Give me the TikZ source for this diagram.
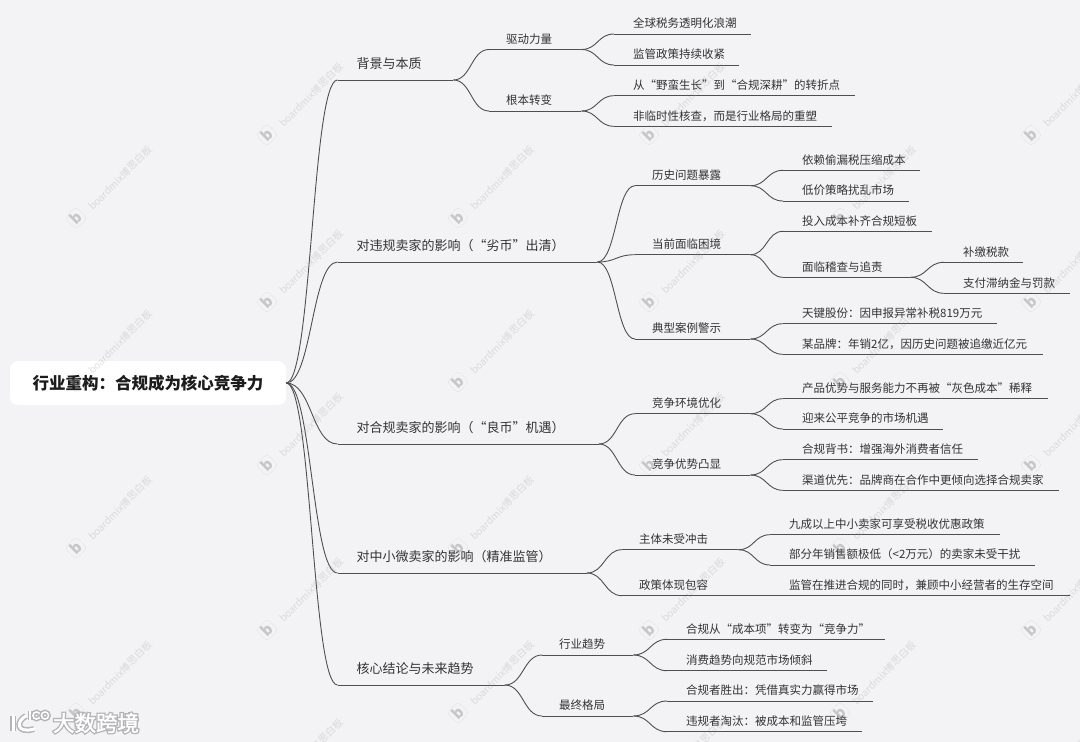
\documentclass[tikz,border=0pt]{standalone}
\usepackage{fontspec}
\setmainfont{Noto Sans CJK SC}
\newfontfamily\logofont[FakeBold=1.6]{Noto Sans CJK SC}
\newfontfamily\haloshade[FakeBold=14]{Noto Sans CJK SC}
\usetikzlibrary{calc}
\definecolor{canvasGray}{HTML}{F3F3F5}
\definecolor{lineGray}{HTML}{4F4F4F}
\definecolor{textGray}{HTML}{333333}
\definecolor{rootInk}{HTML}{1C1C1C}
\definecolor{markGray}{HTML}{8A8A8E}
\definecolor{logoHalo}{HTML}{B4B4B7}

\begin{document}
\begin{tikzpicture}[
    x=1pt, y=-1pt,
    % ── shared styles ───────────────────────────────────────────────
    root node/.style={
        rectangle, rounded corners=8pt, fill=white,
        font=\bfseries\fontsize{16.5}{19}\selectfont, text=rootInk,
        minimum width=276pt, minimum height=44pt,
        inner sep=0pt,
    },
    topic line/.style={
        append after command={
            (\tikzlastnode.south west) edge[draw=lineGray, line width=0.9pt]
            (\tikzlastnode.south east)
        },
    },
    limb/.style={
        anchor=south west, topic line, text=textGray,
        font=\fontsize{13}{15}\selectfont,
        text width=#1, align=left, text height=11pt, text depth=0pt,
        inner xsep=0pt, inner ysep=11pt,
        execute at begin node=\hspace*{19pt},
    },
    bough/.style={
        anchor=south west, topic line, text=textGray,
        font=\fontsize{11.5}{14}\selectfont,
        text width=#1, align=left, text height=10pt, text depth=0pt,
        inner xsep=0pt, inner ysep=6pt,
        execute at begin node=\hspace*{17pt},
    },
    twig/.style={
        anchor=south west, topic line, text=textGray,
        font=\fontsize{11.5}{14}\selectfont,
        text width=#1, align=left, text height=10pt, text depth=0pt,
        inner xsep=0pt, inner ysep=6pt,
        execute at begin node=\hspace*{19pt},
    },
    branch/.style={
        draw=lineGray, line width=0.9pt,
        to path={
            let \p1=(\tikztostart), \p2=(\tikztotarget) in
            .. controls ({0.5*\x1+0.5*\x2},\y1) and ({0.5*\x1+0.5*\x2},\y2)
            .. (\tikztotarget)
        },
    },
    mark text/.style={
        rotate=45, text=markGray, opacity=0.24,
        font=\fontsize{10}{12}\selectfont, inner sep=0pt,
    },
    mark icon/.style={
        rotate=45, rectangle, rounded corners=4pt,
        draw=markGray, line width=0.4pt, draw opacity=0.16,
        text=markGray, text opacity=0.42,
        font=\bfseries\fontsize{15}{15}\selectfont,
        minimum size=16pt, inner sep=0pt,
    },
    logo line/.style={
        draw=white, line cap=round, line width=#1,
        preaction={draw=logoHalo, line width=#1+3pt},
    },
]

\useasboundingbox (0,0) rectangle (1080,742);
\fill[canvasGray] (0,0) rectangle (1080,742);

% =============================================================
%  ROOT NODE
% =============================================================
\node[root node] (root) at (148,383) {行业重构：合规成为核心竞争力};

% =============================================================
%  FIRST LEVEL
% =============================================================
\node[limb=115.5pt] (a) at (337.5,80) {背景与本质};
\node[limb=259.5pt] (b) at (337.5,262) {对违规卖家的影响（“劣币”出清）};
\node[limb=261pt] (c) at (337.5,444) {对合规卖家的影响（“良币”机遇）};
\node[limb=249pt] (d) at (337.5,573) {对中小微卖家的影响（精准监管）};
\node[limb=167pt] (e) at (337.5,685) {核心结论与未来趋势};

\draw[branch] (root.east) to (a.south west);
\draw[branch] (root.east) to (b.south west);
\draw[branch] (root.east) to (c.south west);
\draw[branch] (root.east) to (d.south west);
\draw[branch] (root.east) to (e.south west);

% =============================================================
%  SECOND LEVEL
% =============================================================
\node[bough=92pt] (a1) at (489,49.5) {驱动力量};
\node[bough=92pt] (a2) at (489,111) {根本转变};

\node[bough=115pt] (b1) at (635,185.7) {历史问题暴露};
\node[bough=115pt] (b2) at (635,254.7) {当前面临困境};
\node[bough=115pt] (b3) at (635,339) {典型案例警示};

\node[bough=115pt] (c1) at (635,413.7) {竞争环境优化};
\node[bough=115pt] (c2) at (635,475) {竞争优势凸显};

\node[bough=116pt] (d1) at (622,549.7) {主体未受冲击};
\node[bough=116pt] (d2) at (622,595.7) {政策体现包容};

\node[bough=91pt] (e1) at (542,655) {行业趋势};
\node[bough=91pt] (e2) at (542,716) {最终格局};

\draw[branch] (a.south east) to (a1.south west);
\draw[branch] (a.south east) to (a2.south west);
\draw[branch] (b.south east) to (b1.south west);
\draw[branch] (b.south east) to (b2.south west);
\draw[branch] (b.south east) to (b3.south west);
\draw[branch] (c.south east) to (c1.south west);
\draw[branch] (c.south east) to (c2.south west);
\draw[branch] (d.south east) to (d1.south west);
\draw[branch] (d.south east) to (d2.south west);
\draw[branch] (e.south east) to (e1.south west);
\draw[branch] (e.south east) to (e2.south west);

% =============================================================
%  THIRD LEVEL
% =============================================================
\node[twig=137pt] (a1a) at (614,34) {全球税务透明化浪潮};
\node[twig=125pt] (a1b) at (614,65) {监管政策持续收紧};
\node[twig=241pt] (a2a) at (614,95.7) {从“野蛮生长”到“合规深耕”的转折点};
\node[twig=218pt] (a2b) at (614,126.3) {非临时性核查，而是行业格局的重塑};

\node[twig=137pt] (b1a) at (783,170.3) {依赖偷漏税压缩成本};
\node[twig=125.5pt] (b1b) at (783,201) {低价策略扰乱市场};
\node[twig=148.5pt] (b2a) at (783,231.3) {投入成本补齐合规短板};
\node[twig=127pt] (b2b) at (783,277.3) {面临稽查与追责};
\node[twig=214pt] (b3a) at (783,323.7) {天键股份：因申报异常补税819万元};
\node[twig=260pt] (b3b) at (783,354.3) {某品牌：年销2亿，因历史问题被追缴近亿元};

\node[twig=264.5pt] (c1a) at (783,398.7) {产品优势与服务能力不再被“灰色成本”稀释};
\node[twig=160pt] (c1b) at (783,429) {迎来公平竞争的市场机遇};
\node[twig=195pt] (c2a) at (783,459.7) {合规背书：增强海外消费者信任};
\node[twig=276pt] (c2b) at (783,490.3) {渠道优先：品牌商在合作中更倾向选择合规卖家};

\node[twig=230pt] (d1a) at (770,534.7) {九成以上中小卖家可享受税收优惠政策};
\node[twig=265pt] (d1b) at (770,565) {部分年销售额极低（<2万元）的卖家未受干扰};
\node[twig=300pt] (d2a) at (770,595.7) {监管在推进合规的同时，兼顾中小经营者的生存空间};

\node[twig=218pt] (e1a) at (667,639.3) {合规从“成本项”转变为“竞争力”};
\node[twig=160pt] (e1b) at (667,670.7) {消费趋势向规范市场倾斜};
\node[twig=206pt] (e2a) at (667,701) {合规者胜出：凭借真实力赢得市场};
\node[twig=195pt] (e2b) at (667,731.7) {违规者淘汰：被成本和监管压垮};

\draw[branch] (a1.south east) to (a1a.south west);
\draw[branch] (a1.south east) to (a1b.south west);
\draw[branch] (a2.south east) to (a2a.south west);
\draw[branch] (a2.south east) to (a2b.south west);
\draw[branch] (b1.south east) to (b1a.south west);
\draw[branch] (b1.south east) to (b1b.south west);
\draw[branch] (b2.south east) to (b2a.south west);
\draw[branch] (b2.south east) to (b2b.south west);
\draw[branch] (b3.south east) to (b3a.south west);
\draw[branch] (b3.south east) to (b3b.south west);
\draw[branch] (c1.south east) to (c1a.south west);
\draw[branch] (c1.south east) to (c1b.south west);
\draw[branch] (c2.south east) to (c2a.south west);
\draw[branch] (c2.south east) to (c2b.south west);
\draw[branch] (d1.south east) to (d1a.south west);
\draw[branch] (d1.south east) to (d1b.south west);
\draw[branch] (d2.south east) -- (d2a.south west);
\draw[branch] (e1.south east) to (e1a.south west);
\draw[branch] (e1.south east) to (e1b.south west);
\draw[branch] (e2.south east) to (e2a.south west);
\draw[branch] (e2.south east) to (e2b.south west);

% Fourth level, only under the inspection branch
\node[twig=79pt] (b2b1) at (944,262.3) {补缴税款};
\node[twig=126pt] (b2b2) at (944,293.3) {支付滞纳金与罚款};

\draw[branch] (b2b.south east) to (b2b1.south west);
\draw[branch] (b2b.south east) to (b2b2.south west);

% =============================================================
%  Watermarks
% =============================================================
\begin{scope}
  \clip (0,0) rectangle (1080,742);
  \foreach \wx in {120,502,884} {
    \foreach \wy in {178,342,508,673} {
      \node[mark text] (markA-\wx-\wy) at (\wx,\wy) {boardmix博思白板};
      \node[mark icon] (iconA-\wx-\wy) at (\wx-44,\wy+40) {b};
    }
  }
  \foreach \wx in {311,693,1075} {
    \foreach \wy in {95,262,425,590,751} {
      \node[mark text] (markB-\wx-\wy) at (\wx,\wy) {boardmix博思白板};
      \node[mark icon] (iconB-\wx-\wy) at (\wx-44,\wy+40) {b};
    }
  }
\end{scope}

% =============================================================
%  Logo, bottom left
% =============================================================
\draw[logo line=3pt] (13,716) -- (13,731);
\draw[logo line=3pt] (26,716) .. controls (16,721) and (16,734) .. (34,729);
\draw[logo line=1.5pt] (30,711) -- (30,720);
\draw[logo line=1.5pt] (36.5,715.5) circle[radius=3.6];
\draw[logo line=1.5pt] (45,715.5) circle[radius=3.6];

\node[text=logoHalo, font=\haloshade\fontsize{21.5}{23}\selectfont, inner sep=0pt]
    (logoshade) at (96,723) {大数跨境};
\node[text=white, font=\logofont\fontsize{21.5}{23}\selectfont, inner sep=0pt]
    (logo) at (96,723) {大数跨境};

\end{tikzpicture}
\end{document}
